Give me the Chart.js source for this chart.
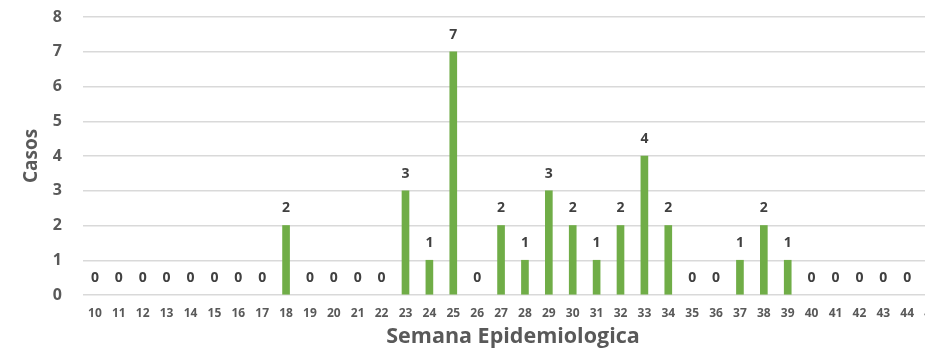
<!DOCTYPE html>
<html>
<head>
<meta charset="utf-8">
<script src="https://cdn.jsdelivr.net/npm/chart.js@4/dist/chart.umd.min.js"></script>
<style>
  html, body { margin: 0; padding: 0; background: #fff; overflow: hidden; }
  #wrap { width: 950px; height: 350px; position: relative; }
</style>
</head>
<body>
<div id="wrap"><canvas id="casos-chart"></canvas></div>
<script>
// Semanas epidemiologicas y casos por semana
const semanas = ['10', '11', '12', '13', '14', '15', '16', '17', '18', '19', '20', '21', '22',
    '23', '24', '25', '26', '27', '28', '29', '30', '31', '32', '33', '34', '35', '36', '37',
    '38', '39', '40', '41', '42', '43', '44', '45'];
const casos = [0, 0, 0, 0, 0, 0, 0, 0, 2, 0, 0, 0, 0,
    3, 1, 7, 0, 2, 1, 3, 2, 1, 2, 4, 2, 0, 0, 1,
    2, 1, 0, 0, 0, 0, 0, 0];
const yTicks = [0, 1, 2, 3, 4, 5, 6, 7, 8];

const gris = '#595959';
const fuente = "'Open Sans', 'DejaVu Sans', sans-serif";

// Etiquetas de valor encima de cada barra
const etiquetasValor = {
    id: 'etiquetasValor',
    afterDatasetsDraw(chart) {
        const ctx = chart.ctx;
        const meta = chart.getDatasetMeta(0);
        ctx.save();
        ctx.font = 'bold 14px ' + fuente;
        ctx.fillStyle = '#404040';
        ctx.textAlign = 'center';
        ctx.textBaseline = 'middle';
        meta.data.forEach((bar, i) => {
            ctx.fillText(String(casos[i]), bar.x, bar.y - 17);
        });
        ctx.restore();
    }
};

const ctx = document.getElementById('casos-chart').getContext('2d');
new Chart(ctx, {
    type: 'bar',
    data: {
        labels: semanas,
        datasets: [{
            label: 'Casos',
            data: casos,
            // las semanas sin casos no dejan marca
            backgroundColor: c => c.raw === 0 ? 'rgba(0,0,0,0)' : '#70AD47',
            barThickness: 7
        }]
    },
    options: {
        responsive: true,
        maintainAspectRatio: false,
        animation: false,
        layout: { padding: { top: 17, right: 7, left: 20, bottom: 0 } },
        plugins: {
            legend: { display: false },
            tooltip: { enabled: false }
        },
        scales: {
            x: {
                grid: { display: false },
                border: { display: false },
                ticks: {
                    color: gris,
                    font: { family: fuente, size: 12, weight: 'bold' },
                    padding: 3,
                    maxRotation: 0,
                    autoSkip: false
                },
                title: {
                    display: true,
                    text: 'Semana Epidemiologica',
                    color: gris,
                    font: { family: fuente, size: 21.5, weight: 'bold' },
                    padding: { top: 3, bottom: 0 }
                },
                afterFit(scale) { scale.height = 55; }
            },
            y: {
                min: 0,
                max: 8,
                afterBuildTicks(scale) {
                    scale.ticks = yTicks.map(v => ({ value: v }));
                },
                grid: { color: '#d9d9d9', lineWidth: 1.5, drawTicks: false },
                border: { display: false },
                ticks: {
                    color: gris,
                    font: { family: fuente, size: 16, weight: 'bold' },
                    padding: 21
                },
                title: {
                    display: true,
                    text: 'Casos',
                    color: gris,
                    font: { family: fuente, size: 19, weight: 'bold' },
                    padding: { top: 0, bottom: 0 }
                },
                afterFit(scale) {
                    scale.width = 63;
                    scale.paddingTop = 0;
                    scale.paddingBottom = 0;
                }
            }
        }
    },
    plugins: [etiquetasValor]
});
</script>
</body>
</html>
